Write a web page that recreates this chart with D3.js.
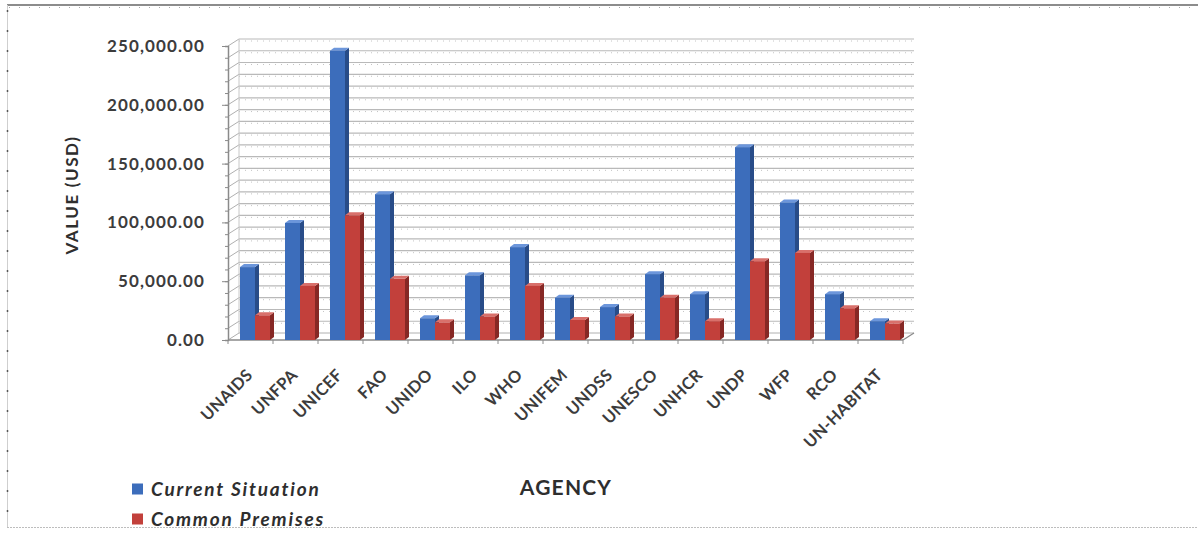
<!DOCTYPE html>
<html>
<head>
<meta charset="utf-8">
<script src="https://cdn.jsdelivr.net/npm/d3@7"></script>
<style>
  html, body { margin: 0; padding: 0; background: #fff; }
  svg { display: block; }
</style>
</head>
<body>
<svg id="chart" width="1198" height="533"></svg>
<script>
const agencies = ["UNAIDS","UNFPA","UNICEF","FAO","UNIDO","ILO","WHO","UNIFEM","UNDSS","UNESCO","UNHCR","UNDP","WFP","RCO","UN-HABITAT"];
const currentSituation = [62000, 99500, 246000, 124000, 18500, 55000, 79000, 36000, 28000, 56000, 39000, 164000, 117000, 39000, 16000];
const commonPremises  = [21000, 46000, 106000, 52000, 15000, 20000, 46000, 17000, 20000, 36000, 16000, 67000, 74000, 27000, 14000];
const yTickValues = [0, 50000, 100000, 150000, 200000, 250000];
const seriesNames = ["Current Situation", "Common Premises"];

const svg = d3.select("#chart");
const colors = {
  "Current Situation": {front: "#3c6dbb", side: "#284c88", top: "#6c96db"},
  "Common Premises":  {front: "#c2403b", side: "#862825", top: "#d9706b"}
};

const x0 = 228, x1 = 903, yBase = 340, yTop = 46;
const wallDx = 11, wallDy = -7;
const barDx = 4, barDy = -3;

const x = d3.scaleBand().domain(agencies).range([x0, x1]).paddingInner(0).paddingOuter(0);
const xs = d3.scaleBand().domain(seriesNames).range([12, 42]);
const y = d3.scaleLinear().domain([0, 250000]).range([yBase, yTop]);

// outer border
svg.append("line").attr("x1", 7).attr("x2", 1198).attr("y1", 5).attr("y2", 5)
  .attr("stroke", "#8c8c8c").attr("stroke-width", 2);
svg.append("line").attr("x1", 9).attr("x2", 1198).attr("y1", 7.5).attr("y2", 7.5)
  .attr("stroke", "#aaa").attr("stroke-width", 1).attr("stroke-dasharray", "1,9");
svg.append("line").attr("x1", 7.5).attr("x2", 7.5).attr("y1", 5).attr("y2", 527)
  .attr("stroke", "#cfcfcf").attr("stroke-width", 1);
svg.append("line").attr("x1", 7.5).attr("x2", 7.5).attr("y1", 10).attr("y2", 527)
  .attr("stroke", "#555").attr("stroke-width", 1.5).attr("stroke-dasharray", "2,18");
svg.append("line").attr("x1", 7).attr("x2", 1198).attr("y1", 527.5).attr("y2", 527.5)
  .attr("stroke", "#bdbdbd").attr("stroke-width", 1).attr("stroke-dasharray", "2,1");

// gridlines on back wall + side wall
const gridVals = d3.range(0, 250001, 10000);
const grid = svg.append("g");
gridVals.forEach(v => {
  const yy = y(v);
  if (v > 0) {
    grid.append("line").attr("x1", x0 + wallDx).attr("x2", x1 + wallDx)
      .attr("y1", yy + wallDy).attr("y2", yy + wallDy)
      .attr("stroke", "#b9b9b9").attr("stroke-width", 1.2);
    grid.append("line").attr("x1", x0 + wallDx).attr("x2", x1 + wallDx)
      .attr("y1", yy + wallDy + 2).attr("y2", yy + wallDy + 2)
      .attr("stroke", "#c4c4c4").attr("stroke-width", 1).attr("stroke-dasharray", "1,5");
  }
  grid.append("line").attr("x1", x0).attr("x2", x0 + wallDx)
    .attr("y1", yy).attr("y2", yy + wallDy)
    .attr("stroke", "#b0b0b0").attr("stroke-width", 1);
});
grid.append("line").attr("x1", x0 + wallDx).attr("x2", x0 + wallDx)
  .attr("y1", y(0) + wallDy).attr("y2", y(250000) + wallDy)
  .attr("stroke", "#c8c8c8").attr("stroke-width", 1);

// floor
const floor = svg.append("g");
floor.append("line").attr("x1", x0 + wallDx).attr("x2", x1 + wallDx)
  .attr("y1", yBase + wallDy).attr("y2", yBase + wallDy).attr("stroke", "#b0b0b0");
floor.append("line").attr("x1", x1).attr("x2", x1 + wallDx)
  .attr("y1", yBase).attr("y2", yBase + wallDy).attr("stroke", "#8a8a8a").attr("stroke-width", 1.2);
floor.append("line").attr("x1", x0).attr("x2", x1)
  .attr("y1", yBase).attr("y2", yBase).attr("stroke", "#8a8a8a").attr("stroke-width", 1.5);

// y axis
const yAxisG = svg.append("g").attr("transform", `translate(${x0},0)`)
  .call(d3.axisLeft(y).tickValues(gridVals).tickSize(3).tickFormat(""));
yAxisG.select(".domain").attr("stroke", "#8a8a8a").attr("stroke-width", 1.5);
yAxisG.selectAll(".tick line").attr("stroke", "#8a8a8a");
const yLabG = svg.append("g").attr("transform", `translate(${x0},0)`)
  .call(d3.axisLeft(y).tickValues(yTickValues).tickSize(6).tickPadding(17)
    .tickFormat(d => d3.format(",.2f")(d)));
yLabG.select(".domain").remove();
yLabG.selectAll(".tick line").attr("stroke", "#8a8a8a");
yLabG.selectAll(".tick text")
  .attr("font-family", "Lato, 'Open Sans', sans-serif").attr("font-size", 17)
  .attr("font-weight", "bold").attr("letter-spacing", "1.1px").attr("fill", "#3c3c3c");

// x axis ticks
const xAxisG = svg.append("g").attr("transform", `translate(0,${yBase})`)
  .call(d3.axisBottom(x).tickSize(0).tickFormat(""));
xAxisG.select(".domain").remove();
svg.append("g").selectAll("line").data(agencies.concat(["__end"]))
  .join("line")
  .attr("x1", (d, i) => x0 + i * x.bandwidth()).attr("x2", (d, i) => x0 + i * x.bandwidth())
  .attr("y1", yBase).attr("y2", yBase + 4).attr("stroke", "#8a8a8a");

// x labels
svg.append("g").selectAll("text").data(agencies).join("text")
  .attr("transform", d => `translate(${x(d) + x.bandwidth() / 2 - 1},${yBase + 32}) rotate(-45)`)
  .attr("text-anchor", "end").attr("dy", "0.35em")
  .attr("font-family", "Lato, 'Open Sans', sans-serif").attr("font-size", 16.5)
  .attr("font-weight", "bold").attr("letter-spacing", "0.3px").attr("fill", "#3c3c3c")
  .text(d => d);

// bars (3D)
const rows = [];
agencies.forEach((a, i) => {
  rows.push({agency: a, series: "Current Situation", value: currentSituation[i]});
  rows.push({agency: a, series: "Common Premises", value: commonPremises[i]});
});
const bw = xs.bandwidth();
const barG = svg.append("g").selectAll("g").data(rows).join("g");
barG.append("path")
  .attr("d", d => {
    const bx = x(d.agency) + xs(d.series) + bw, by = y(d.value);
    return `M${bx},${by}L${bx + barDx},${by + barDy}L${bx + barDx},${yBase + barDy}L${bx},${yBase}Z`;
  })
  .attr("fill", d => colors[d.series].side);
barG.append("path")
  .attr("d", d => {
    const bx = x(d.agency) + xs(d.series), by = y(d.value);
    return `M${bx},${by}L${bx + barDx},${by + barDy}L${bx + bw + barDx},${by + barDy}L${bx + bw},${by}Z`;
  })
  .attr("fill", d => colors[d.series].top);
barG.append("rect")
  .attr("x", d => x(d.agency) + xs(d.series))
  .attr("y", d => y(d.value))
  .attr("width", bw)
  .attr("height", d => yBase - y(d.value))
  .attr("fill", d => colors[d.series].front);

// axis titles
svg.append("text")
  .attr("transform", "translate(78,195) rotate(-90)")
  .attr("text-anchor", "middle")
  .attr("font-family", "Lato, 'Open Sans', sans-serif").attr("font-size", 17)
  .attr("font-weight", "bold").attr("letter-spacing", "1.6px").attr("fill", "#2e2e2e")
  .text("VALUE (USD)");
svg.append("text")
  .attr("x", 566).attr("y", 495)
  .attr("text-anchor", "middle")
  .attr("font-family", "Lato, 'Open Sans', sans-serif").attr("font-size", 21)
  .attr("font-weight", "bold").attr("letter-spacing", "1.2px").attr("fill", "#2e2e2e")
  .text("AGENCY");

// legend
const leg = svg.append("g").selectAll("g").data(seriesNames).join("g")
  .attr("transform", (d, i) => `translate(132,${489 + i * 30})`);
leg.append("rect").attr("x", 0).attr("y", -5.5).attr("width", 11).attr("height", 11)
  .attr("fill", d => colors[d].front);
leg.append("text").attr("x", 19).attr("dy", "0.35em")
  .attr("font-family", "Lato, 'Open Sans', sans-serif").attr("font-size", 19)
  .attr("font-weight", "bold").attr("font-style", "italic").attr("letter-spacing", "1.8px")
  .attr("fill", "#2e2e2e")
  .text(d => d);
</script>
</body>
</html>
